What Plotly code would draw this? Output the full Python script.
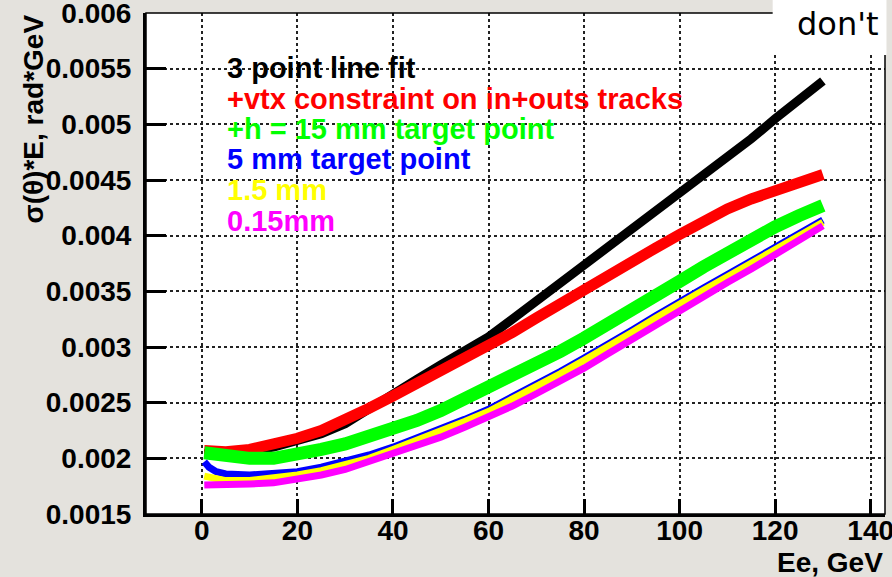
import plotly.graph_objects as go

# ---- data ----
energy = [0.5, 5, 10, 15, 20, 25, 30, 35, 40, 45, 50, 55, 60, 65, 70, 75, 80, 85, 90,
          95, 100, 105, 110, 115, 120, 125, 130]
energy_blue = [0.5, 1.5, 3, 5, 10, 15, 20, 25, 30, 35, 40, 45, 50, 55, 60, 65, 70, 75, 80,
               85, 90, 95, 100, 105, 110, 115, 120, 125, 130]

fit3 = [0.00204, 0.00205, 0.00207, 0.00210, 0.00215, 0.00222, 0.00231, 0.00245, 0.00258,
        0.00271, 0.00284, 0.00296, 0.00309, 0.00325, 0.00341, 0.00357, 0.00373, 0.00389,
        0.00405, 0.00421, 0.00437, 0.00453, 0.00470, 0.00487, 0.00505, 0.00522, 0.00539]
vtx = [0.00207, 0.00206, 0.00208, 0.00212, 0.00218, 0.00225, 0.00234, 0.00245, 0.00256,
       0.00267, 0.00278, 0.00289, 0.00300, 0.00313, 0.00326, 0.00339, 0.00352, 0.00365,
       0.00377, 0.00389, 0.00401, 0.00413, 0.00424, 0.00433, 0.00441, 0.00448, 0.00455]
h15 = [0.00205, 0.00202, 0.00200, 0.00200, 0.00203, 0.00208, 0.00213, 0.00219, 0.00226,
       0.00234, 0.00243, 0.00253, 0.00263, 0.00273, 0.00284, 0.00296, 0.00308, 0.00320,
       0.00333, 0.00346, 0.00359, 0.00372, 0.00385, 0.00397, 0.00408, 0.00418, 0.00427]
t5 = [0.00197, 0.00192, 0.00188, 0.00186, 0.00185, 0.00186, 0.00188, 0.00192, 0.00197,
      0.00203, 0.00210, 0.00218, 0.00226, 0.00235, 0.00244, 0.00255, 0.00266, 0.00278,
      0.00290, 0.00302, 0.00315, 0.00328, 0.00341, 0.00353, 0.00365, 0.00377, 0.00390,
      0.00402, 0.00414]
t15 = [0.00184, 0.00180, 0.00180, 0.00182, 0.00185, 0.00189, 0.00194, 0.00200, 0.00208,
       0.00216, 0.00224, 0.00233, 0.00242, 0.00253, 0.00264, 0.00276, 0.00288, 0.00300,
       0.00313, 0.00326, 0.00339, 0.00351, 0.00363, 0.00375, 0.00388, 0.00400, 0.00412]
t015 = [0.00176, 0.00176, 0.00177, 0.00178, 0.00181, 0.00185, 0.00190, 0.00197, 0.00204,
        0.00211, 0.00219, 0.00228, 0.00237, 0.00247, 0.00258, 0.00269, 0.00281, 0.00294,
        0.00307, 0.00320, 0.00333, 0.00346, 0.00358, 0.00370, 0.00383, 0.00396, 0.00409]

series_names = ["3 point line fit", "+vtx constraint on in+outs tracks",
                "+h = 15 mm target point", "5 mm target point", "1.5 mm", "0.15mm"]
series_colors = ["#000000", "#ff0000", "#00ff00", "#0000ff", "#ffff00", "#ff00ff"]

y_tickvals = [0.0015, 0.002, 0.0025, 0.003, 0.0035, 0.004, 0.0045, 0.005, 0.0055, 0.006]
y_ticktext = ["0.0015", "0.002", "0.0025", "0.003", "0.0035", "0.004", "0.0045",
              "0.005", "0.0055", "0.006"]
x_tickvals = [0, 20, 40, 60, 80, 100, 120, 140]
x_ticktext = ["0", "20", "40", "60", "80", "100", "120", "140"]

FONT = "Liberation Sans, Arial, Helvetica, sans-serif"
X_RANGE = [-11.7, 143]
Y_RANGE = [0.0015, 0.0060001]

fig = go.Figure()
xs = [energy, energy, energy, energy_blue, energy, energy]
ys = [fit3, vtx, h15, t5, t15, t015]
widths = [9, 11, 13, 7, 7, 7]
for x, y, c, w, n in zip(xs, ys, series_colors, widths, series_names):
    fig.add_trace(go.Scatter(x=x, y=y, mode="lines", name=n,
                             line=dict(color=c, width=w)))

fig.update_layout(
    width=892, height=577,
    margin=dict(l=146, r=7, t=13, b=63, autoexpand=False),
    paper_bgcolor="#e4e2dd", plot_bgcolor="white",
    showlegend=False,
    font=dict(family=FONT, size=28, color="black"),
)

common = dict(
    ticks="inside", tickwidth=2.5, tickcolor="black",
    showline=True, linewidth=3, linecolor="black",
    showgrid=True, gridcolor="#222222", gridwidth=1.5, griddash="dot",
    zeroline=False,
    tickfont=dict(family=FONT, size=28, weight="bold", color="black"),
    ticklabeloverflow="allow",
)
fig.update_layout(
    xaxis=dict(range=X_RANGE, tickmode="array", tickvals=x_tickvals, ticktext=x_ticktext,
               ticklen=15, ticklabelstandoff=-11, **common),
    yaxis=dict(range=Y_RANGE, tickmode="array", tickvals=y_tickvals, ticktext=y_ticktext,
               ticklen=20, ticklabelstandoff=6, **common),
    # overlay axes carrying only the minor ticks
    xaxis2=dict(range=X_RANGE, overlaying="x", side="bottom", anchor="y",
                tickmode="linear", tick0=0, dtick=5, ticks="inside", ticklen=8,
                tickwidth=2, tickcolor="black", showticklabels=False,
                showgrid=False, zeroline=False, showline=False),
    yaxis2=dict(range=Y_RANGE, overlaying="y", side="left", anchor="x",
                tickmode="linear", tick0=0.0015, dtick=0.0001, ticks="inside", ticklen=10,
                tickwidth=2, tickcolor="black", showticklabels=False,
                showgrid=False, zeroline=False, showline=False),
)

# thin frame on top / right
fig.add_shape(type="rect", xref="paper", yref="paper", x0=0, x1=1, y0=0, y1=1,
              line=dict(color="black", width=1.5), layer="above")

# legend-like text block
leg_y = [0.89, 0.828, 0.768, 0.708, 0.646, 0.584]
for name, color, yy in zip(series_names, series_colors, leg_y):
    fig.add_annotation(text=name, xref="paper", yref="paper", x=0.107, y=yy,
                       xanchor="left", yanchor="middle", showarrow=False,
                       font=dict(family=FONT, size=29, weight="bold", color=color))

# axis titles
fig.add_annotation(text="σ(θ)*E, rad*GeV", xref="paper", yref="paper", x=0, y=1,
                   xshift=-113, xanchor="center", yanchor="top", textangle=-90,
                   showarrow=False, font=dict(family=FONT, size=28, weight="bold"))
fig.add_annotation(text="Ee, GeV", xref="paper", yref="paper", x=1, y=0, yshift=-31,
                   xanchor="right", yanchor="top", showarrow=False,
                   font=dict(family=FONT, size=28, weight="bold"))

# overlay box "don't"
fig.add_shape(type="rect", xref="paper", yref="paper", x0=0.848, x1=1.002, y0=0.916, y1=1.03,
              fillcolor="white", line=dict(width=0), layer="above")
fig.add_annotation(text="don't", xref="paper", yref="paper", x=0.936, y=0.978,
                   xanchor="center", yanchor="middle", showarrow=False,
                   font=dict(family="DejaVu Sans, sans-serif", size=32, color="black"))

fig.write_html("out.html", config={"displayModeBar": False},
               post_script="document.body.style.margin='0';")
